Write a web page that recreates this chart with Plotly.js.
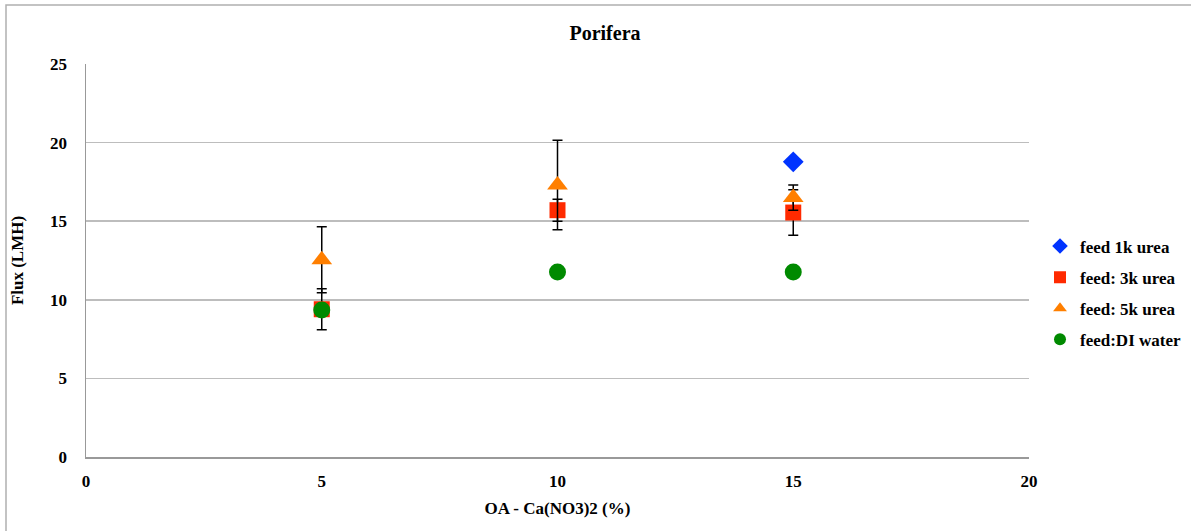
<!DOCTYPE html>
<html><head><meta charset="utf-8">
<script src="https://cdn.plot.ly/plotly-3.0.1.min.js"></script>
<style>body{margin:0;padding:0;background:#fff}#chart{width:1191px;height:531px}</style>
</head><body><div id="chart"></div>
<script>
const names = ["feed 1k urea", "feed: 3k urea", "feed: 5k urea", "feed:DI water"];
const x1k = [15], y1k = [18.78];
const x3k = [5, 10, 15], y3k = [9.4, 15.7, 15.55], e3k = [1.3, 0.7, 1.45];
const x5k = [5, 10, 15], y5k = [12.55, 17.3, 16.5], e5k = [2.1, 2.85, 0.8];
const xDI = [5, 10, 15], yDI = [9.35, 11.77, 11.77];
const xTicks = [0, 5, 10, 15, 20], yTicks = [0, 5, 10, 15, 20, 25];

const eb = (arr) => ({type: 'data', array: arr, visible: true, color: '#000', thickness: 1.5, width: 5});
const b = (s) => '<b>' + s + '</b>';
const traces = [
  {x: x3k, y: y3k, name: b(names[1]), legendgroup: 'g2', legendrank: 2, mode: 'markers', type: 'scatter', error_y: eb(e3k),
   marker: {symbol: 'square', size: 16, color: '#ff2a00'}},
  {x: x5k, y: y5k, name: b(names[2]), legendgroup: 'g3', legendrank: 3, mode: 'markers', type: 'scatter', error_y: eb(e5k),
   marker: {symbol: 'triangle-up', size: 18, color: '#ff7f00'}},
  {x: xDI, y: yDI, name: b(names[3]), legendgroup: 'g4', legendrank: 4, mode: 'markers', type: 'scatter',
   marker: {symbol: 'circle', size: 17, color: '#008a00'}},
  {x: x1k, y: y1k, name: b(names[0]), legendgroup: 'g1', legendrank: 1, mode: 'markers', type: 'scatter',
   marker: {symbol: 'diamond', size: 16, color: '#0033ff'}}
];

const fam = 'Liberation Serif, Times New Roman, serif';
const font = {family: fam, size: 17, color: '#000'};
const layout = {
  width: 1191, height: 531,
  margin: {l: 86, r: 162, t: 64, b: 74},
  paper_bgcolor: '#fff', plot_bgcolor: '#fff',
  font: font,
  title: {text: '<b>Porifera</b>', x: 605 / 1191, xanchor: 'center', y: 1 - 33 / 531, yanchor: 'middle', font: {family: fam, size: 20, color: '#000'}},
  xaxis: {range: [0, 20], tickvals: xTicks, ticktext: xTicks.map(v => b(v)),
    showgrid: false, zeroline: false, showline: true, linecolor: '#999', linewidth: 1.5,
    ticks: '', tickfont: font, ticklabelstandoff: 8,
    title: {text: '<b>OA - Ca(NO3)2 (%)</b>', font: font, standoff: 12}},
  yaxis: {range: [0, 25], tickvals: yTicks, ticktext: yTicks.map(v => b(v)),
    showgrid: true, gridcolor: '#bdbdbd', gridwidth: 1.5, zeroline: false, showline: true, linecolor: '#999', linewidth: 1.5,
    ticks: '', tickfont: font, ticklabelstandoff: 14,
    title: {text: '<b>Flux (LMH)</b>', font: font, standoff: 22}},
  showlegend: true,
  legend: {xref: 'container', yref: 'container', x: 1040 / 1191, xanchor: 'left', y: 1 - 293 / 531, yanchor: 'middle',
    font: {family: fam, size: 17, color: '#000'}, itemsizing: 'constant',
    itemwidth: 30, tracegroupgap: 6, traceorder: 'grouped', bgcolor: 'rgba(0,0,0,0)'},
  shapes: [{type: 'rect', xref: 'paper', yref: 'paper', x0: (6 - 86) / 943, x1: 1.5, y0: -0.5, y1: (457 - 5) / 393,
    line: {color: '#b0b0b0', width: 1.5}, fillcolor: 'rgba(0,0,0,0)', layer: 'below'}]
};
Plotly.newPlot('chart', traces, layout, {displayModeBar: false, staticPlot: true});
</script></body></html>
